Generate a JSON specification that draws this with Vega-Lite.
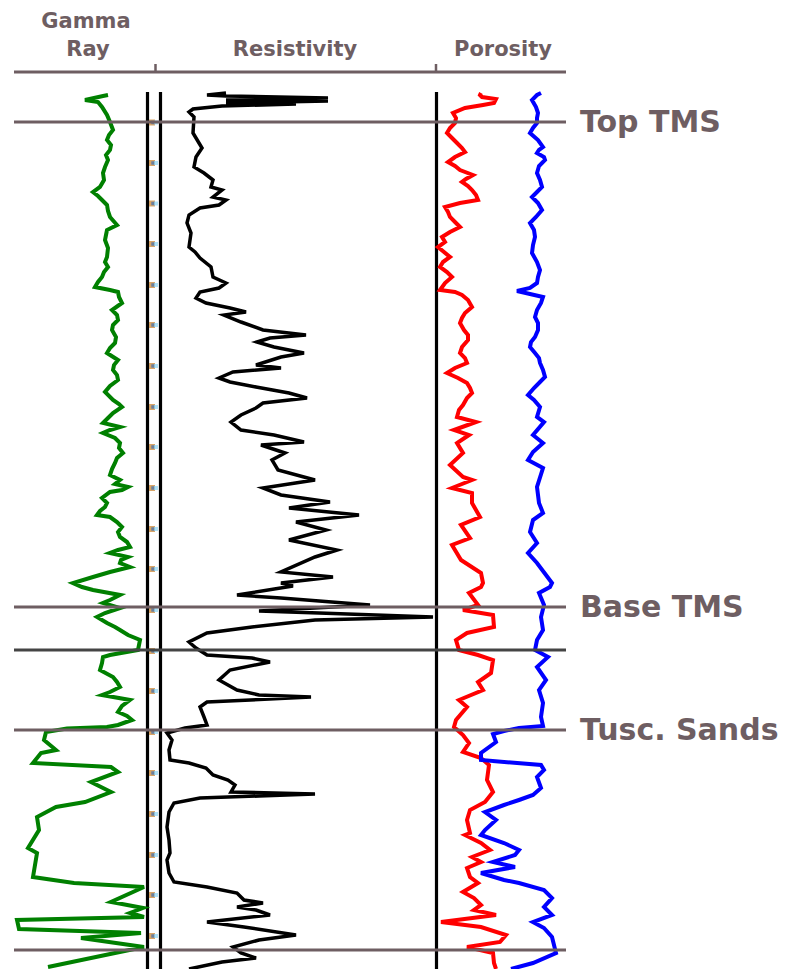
{
  "$schema": "https://vega.github.io/schema/vega-lite/v6.json",
  "width": 787,
  "height": 969,
  "autosize": {"type": "none"},
  "padding": 0,
  "background": "white",
  "config": {"view": {"stroke": null}},
  "datasets": {
    "gamma": [
      {"depth":95,"value":108},{"depth":96,"value":103},{"depth":100,"value":85},{"depth":102,"value":98},{"depth":107,"value":102},{"depth":115,"value":107},{"depth":122,"value":110},{"depth":130,"value":113},{"depth":135,"value":109},{"depth":140,"value":107},{"depth":145,"value":111},{"depth":150,"value":110},{"depth":155,"value":106},{"depth":160,"value":108},{"depth":167,"value":105},{"depth":173,"value":103},{"depth":180,"value":104},{"depth":187,"value":100},{"depth":192,"value":93},{"depth":196,"value":98},{"depth":200,"value":102},{"depth":205,"value":107},{"depth":211,"value":108},{"depth":217,"value":110},{"depth":225,"value":117},{"depth":230,"value":107},{"depth":235,"value":106},{"depth":240,"value":105},{"depth":248,"value":108},{"depth":257,"value":107},{"depth":262,"value":105},{"depth":267,"value":108},{"depth":272,"value":104},{"depth":277,"value":102},{"depth":282,"value":98},{"depth":287,"value":95},{"depth":290,"value":110},{"depth":292,"value":118},{"depth":297,"value":119},{"depth":303,"value":122},{"depth":310,"value":112},{"depth":315,"value":117},{"depth":320,"value":118},{"depth":325,"value":113},{"depth":330,"value":112},{"depth":337,"value":116},{"depth":343,"value":115},{"depth":348,"value":110},{"depth":353,"value":107},{"depth":360,"value":118},{"depth":365,"value":114},{"depth":370,"value":113},{"depth":375,"value":117},{"depth":380,"value":118},{"depth":386,"value":110},{"depth":392,"value":105},{"depth":400,"value":113},{"depth":404,"value":119},{"depth":407,"value":122},{"depth":413,"value":113},{"depth":418,"value":108},{"depth":423,"value":103},{"depth":427,"value":120},{"depth":430,"value":110},{"depth":433,"value":103},{"depth":438,"value":115},{"depth":443,"value":120},{"depth":448,"value":119},{"depth":453,"value":123},{"depth":458,"value":117},{"depth":463,"value":115},{"depth":469,"value":112},{"depth":475,"value":110},{"depth":480,"value":120},{"depth":484,"value":115},{"depth":487,"value":128},{"depth":490,"value":122},{"depth":492,"value":110},{"depth":498,"value":102},{"depth":503,"value":107},{"depth":507,"value":105},{"depth":511,"value":100},{"depth":515,"value":97},{"depth":517,"value":110},{"depth":522,"value":117},{"depth":527,"value":122},{"depth":532,"value":118},{"depth":537,"value":120},{"depth":542,"value":127},{"depth":547,"value":130},{"depth":550,"value":118},{"depth":553,"value":110},{"depth":557,"value":128},{"depth":560,"value":121},{"depth":563,"value":120},{"depth":567,"value":130},{"depth":572,"value":110},{"depth":577,"value":93},{"depth":583,"value":73},{"depth":587,"value":82},{"depth":590,"value":93},{"depth":595,"value":120},{"depth":600,"value":110},{"depth":603,"value":103},{"depth":608,"value":120},{"depth":613,"value":105},{"depth":617,"value":97},{"depth":623,"value":107},{"depth":627,"value":115},{"depth":630,"value":120},{"depth":635,"value":128},{"depth":640,"value":140},{"depth":645,"value":139},{"depth":650,"value":138},{"depth":655,"value":110},{"depth":657,"value":103},{"depth":663,"value":102},{"depth":670,"value":100},{"depth":677,"value":113},{"depth":682,"value":117},{"depth":687,"value":120},{"depth":692,"value":110},{"depth":695,"value":102},{"depth":700,"value":130},{"depth":706,"value":122},{"depth":712,"value":118},{"depth":716,"value":127},{"depth":720,"value":132},{"depth":725,"value":118},{"depth":727,"value":107},{"depth":728.5,"value":67},{"depth":732,"value":46},{"depth":740,"value":44},{"depth":750,"value":56},{"depth":753,"value":41},{"depth":763,"value":33},{"depth":767,"value":111},{"depth":772,"value":118},{"depth":782,"value":91},{"depth":792,"value":111},{"depth":802,"value":85},{"depth":807,"value":56},{"depth":817,"value":37},{"depth":830,"value":39},{"depth":848,"value":28},{"depth":853,"value":37},{"depth":877,"value":33},{"depth":883,"value":74},{"depth":887,"value":144},{"depth":902,"value":111},{"depth":904,"value":122},{"depth":908,"value":143},{"depth":913,"value":130},{"depth":917,"value":144},{"depth":920,"value":17},{"depth":929,"value":19},{"depth":933,"value":141},{"depth":938,"value":81},{"depth":947,"value":144},{"depth":953,"value":115},{"depth":967,"value":48}
    ],
    "resistivity": [
      {"depth":93,"value":226},{"depth":95,"value":207},{"depth":96,"value":226},{"depth":98,"value":328},{"depth":100,"value":226},{"depth":101,"value":328},{"depth":103,"value":226},{"depth":104,"value":296},{"depth":106,"value":222},{"depth":109,"value":193},{"depth":112,"value":189},{"depth":117,"value":194},{"depth":133,"value":193},{"depth":148,"value":202},{"depth":157,"value":196},{"depth":167,"value":194},{"depth":173,"value":204},{"depth":180,"value":213},{"depth":187,"value":211},{"depth":190,"value":222},{"depth":197,"value":213},{"depth":200,"value":226},{"depth":205,"value":219},{"depth":208,"value":200},{"depth":215,"value":189},{"depth":223,"value":187},{"depth":233,"value":191},{"depth":247,"value":189},{"depth":252,"value":195},{"depth":258,"value":200},{"depth":267,"value":211},{"depth":277,"value":213},{"depth":283,"value":226},{"depth":288,"value":219},{"depth":292,"value":200},{"depth":298,"value":196},{"depth":303,"value":206},{"depth":308,"value":230},{"depth":312,"value":246},{"depth":315,"value":224},{"depth":322,"value":241},{"depth":330,"value":263},{"depth":335,"value":306},{"depth":338,"value":270},{"depth":342,"value":257},{"depth":347,"value":274},{"depth":353,"value":304},{"depth":357,"value":281},{"depth":365,"value":256},{"depth":368,"value":281},{"depth":372,"value":233},{"depth":378,"value":219},{"depth":382,"value":230},{"depth":387,"value":256},{"depth":393,"value":289},{"depth":398,"value":307},{"depth":403,"value":263},{"depth":408,"value":256},{"depth":415,"value":241},{"depth":422,"value":231},{"depth":430,"value":241},{"depth":435,"value":274},{"depth":442,"value":304},{"depth":445,"value":261},{"depth":453,"value":285},{"depth":460,"value":272},{"depth":470,"value":278},{"depth":480,"value":315},{"depth":488,"value":263},{"depth":495,"value":281},{"depth":502,"value":330},{"depth":508,"value":289},{"depth":515,"value":359},{"depth":522,"value":296},{"depth":530,"value":326},{"depth":540,"value":289},{"depth":550,"value":337},{"depth":557,"value":315},{"depth":572,"value":281},{"depth":577,"value":333},{"depth":583,"value":281},{"depth":586,"value":293},{"depth":595,"value":237},{"depth":598,"value":281},{"depth":605,"value":370},{"depth":611,"value":259},{"depth":613,"value":319},{"depth":617,"value":433},{"depth":620,"value":315},{"depth":627,"value":252},{"depth":633,"value":207},{"depth":642,"value":189},{"depth":648,"value":196},{"depth":655,"value":207},{"depth":658,"value":252},{"depth":662,"value":270},{"depth":670,"value":230},{"depth":680,"value":219},{"depth":690,"value":237},{"depth":695,"value":259},{"depth":697,"value":311},{"depth":702,"value":207},{"depth":707,"value":200},{"depth":717,"value":204},{"depth":725,"value":207},{"depth":728,"value":185},{"depth":733,"value":167},{"depth":740,"value":172},{"depth":750,"value":169},{"depth":760,"value":170},{"depth":763,"value":189},{"depth":768,"value":206},{"depth":775,"value":213},{"depth":780,"value":228},{"depth":785,"value":235},{"depth":792,"value":231},{"depth":794,"value":315},{"depth":796,"value":259},{"depth":798,"value":200},{"depth":803,"value":174},{"depth":812,"value":169},{"depth":827,"value":167},{"depth":840,"value":169},{"depth":853,"value":170},{"depth":860,"value":167},{"depth":873,"value":169},{"depth":882,"value":174},{"depth":887,"value":207},{"depth":893,"value":237},{"depth":900,"value":244},{"depth":903,"value":263},{"depth":907,"value":237},{"depth":910,"value":256},{"depth":915,"value":270},{"depth":922,"value":207},{"depth":927,"value":244},{"depth":935,"value":296},{"depth":940,"value":259},{"depth":947,"value":233},{"depth":953,"value":241},{"depth":958,"value":256},{"depth":962,"value":222},{"depth":969,"value":189}
    ],
    "porosity_red": [
      {"depth":93,"value":481},{"depth":95,"value":480},{"depth":97,"value":482},{"depth":99,"value":496},{"depth":103,"value":494},{"depth":105,"value":483},{"depth":108,"value":465},{"depth":113,"value":453},{"depth":118,"value":456},{"depth":123,"value":455},{"depth":128,"value":450},{"depth":133,"value":447},{"depth":138,"value":452},{"depth":143,"value":457},{"depth":148,"value":462},{"depth":152,"value":465},{"depth":157,"value":455},{"depth":162,"value":448},{"depth":166,"value":455},{"depth":170,"value":460},{"depth":175,"value":473},{"depth":179,"value":466},{"depth":182,"value":462},{"depth":186,"value":468},{"depth":190,"value":472},{"depth":195,"value":476},{"depth":200,"value":478},{"depth":203,"value":460},{"depth":207,"value":445},{"depth":212,"value":448},{"depth":217,"value":450},{"depth":222,"value":455},{"depth":227,"value":460},{"depth":232,"value":450},{"depth":237,"value":442},{"depth":242,"value":445},{"depth":247,"value":438},{"depth":252,"value":444},{"depth":257,"value":450},{"depth":262,"value":443},{"depth":267,"value":440},{"depth":272,"value":447},{"depth":277,"value":452},{"depth":283,"value":445},{"depth":290,"value":440},{"depth":292,"value":455},{"depth":295,"value":462},{"depth":300,"value":468},{"depth":307,"value":472},{"depth":313,"value":465},{"depth":318,"value":462},{"depth":323,"value":460},{"depth":330,"value":464},{"depth":335,"value":468},{"depth":340,"value":468},{"depth":347,"value":462},{"depth":353,"value":460},{"depth":358,"value":465},{"depth":363,"value":467},{"depth":368,"value":455},{"depth":373,"value":447},{"depth":378,"value":458},{"depth":383,"value":467},{"depth":388,"value":470},{"depth":393,"value":472},{"depth":398,"value":467},{"depth":405,"value":463},{"depth":410,"value":459},{"depth":417,"value":457},{"depth":422,"value":476},{"depth":430,"value":454},{"depth":435,"value":469},{"depth":443,"value":457},{"depth":453,"value":463},{"depth":465,"value":450},{"depth":477,"value":463},{"depth":480,"value":472},{"depth":488,"value":452},{"depth":493,"value":472},{"depth":503,"value":472},{"depth":517,"value":480},{"depth":525,"value":461},{"depth":538,"value":470},{"depth":545,"value":452},{"depth":560,"value":461},{"depth":573,"value":481},{"depth":583,"value":483},{"depth":587,"value":481},{"depth":593,"value":469},{"depth":605,"value":478},{"depth":610,"value":463},{"depth":615,"value":493},{"depth":627,"value":494},{"depth":633,"value":467},{"depth":640,"value":456},{"depth":650,"value":459},{"depth":655,"value":478},{"depth":660,"value":493},{"depth":673,"value":491},{"depth":682,"value":478},{"depth":690,"value":483},{"depth":700,"value":459},{"depth":707,"value":467},{"depth":720,"value":456},{"depth":727,"value":454},{"depth":735,"value":463},{"depth":743,"value":469},{"depth":752,"value":463},{"depth":758,"value":481},{"depth":765,"value":489},{"depth":780,"value":487},{"depth":792,"value":493},{"depth":802,"value":485},{"depth":810,"value":470},{"depth":820,"value":467},{"depth":833,"value":470},{"depth":835,"value":465},{"depth":843,"value":481},{"depth":850,"value":490},{"depth":857,"value":472},{"depth":862,"value":481},{"depth":868,"value":467},{"depth":877,"value":470},{"depth":883,"value":478},{"depth":892,"value":463},{"depth":898,"value":474},{"depth":905,"value":481},{"depth":910,"value":474},{"depth":915,"value":496},{"depth":922,"value":441},{"depth":927,"value":481},{"depth":935,"value":506},{"depth":942,"value":500},{"depth":947,"value":467},{"depth":953,"value":493},{"depth":963,"value":494},{"depth":969,"value":496}
    ],
    "porosity_blue": [
      {"depth":93,"value":541},{"depth":95,"value":537},{"depth":100,"value":532},{"depth":107,"value":536},{"depth":113,"value":538},{"depth":118,"value":537},{"depth":123,"value":537},{"depth":128,"value":533},{"depth":133,"value":530},{"depth":140,"value":538},{"depth":147,"value":543},{"depth":150,"value":539},{"depth":153,"value":537},{"depth":157,"value":544},{"depth":160,"value":545},{"depth":166,"value":539},{"depth":173,"value":537},{"depth":180,"value":540},{"depth":187,"value":542},{"depth":192,"value":537},{"depth":197,"value":532},{"depth":203,"value":538},{"depth":210,"value":542},{"depth":217,"value":536},{"depth":223,"value":530},{"depth":230,"value":534},{"depth":237,"value":535},{"depth":245,"value":533},{"depth":253,"value":532},{"depth":262,"value":537},{"depth":270,"value":540},{"depth":277,"value":538},{"depth":283,"value":537},{"depth":288,"value":530},{"depth":291,"value":517},{"depth":294,"value":530},{"depth":297,"value":543},{"depth":303,"value":541},{"depth":310,"value":537},{"depth":317,"value":535},{"depth":323,"value":538},{"depth":330,"value":538},{"depth":337,"value":535},{"depth":342,"value":531},{"depth":347,"value":530},{"depth":353,"value":535},{"depth":358,"value":539},{"depth":363,"value":540},{"depth":370,"value":543},{"depth":377,"value":545},{"depth":382,"value":540},{"depth":388,"value":534},{"depth":395,"value":528},{"depth":400,"value":534},{"depth":407,"value":540},{"depth":417,"value":537},{"depth":422,"value":544},{"depth":435,"value":533},{"depth":443,"value":543},{"depth":452,"value":533},{"depth":460,"value":528},{"depth":468,"value":543},{"depth":487,"value":537},{"depth":503,"value":539},{"depth":513,"value":543},{"depth":520,"value":533},{"depth":532,"value":530},{"depth":543,"value":537},{"depth":553,"value":528},{"depth":563,"value":537},{"depth":583,"value":552},{"depth":587,"value":550},{"depth":593,"value":539},{"depth":605,"value":544},{"depth":617,"value":541},{"depth":630,"value":543},{"depth":640,"value":537},{"depth":650,"value":535},{"depth":657,"value":548},{"depth":667,"value":537},{"depth":680,"value":546},{"depth":690,"value":539},{"depth":703,"value":543},{"depth":717,"value":541},{"depth":726,"value":543},{"depth":728,"value":519},{"depth":731,"value":504},{"depth":734,"value":493},{"depth":742,"value":496},{"depth":753,"value":481},{"depth":760,"value":481},{"depth":765,"value":541},{"depth":770,"value":544},{"depth":777,"value":537},{"depth":788,"value":541},{"depth":795,"value":533},{"depth":800,"value":519},{"depth":805,"value":504},{"depth":812,"value":485},{"depth":820,"value":496},{"depth":830,"value":485},{"depth":835,"value":481},{"depth":843,"value":504},{"depth":850,"value":519},{"depth":855,"value":515},{"depth":862,"value":493},{"depth":867,"value":515},{"depth":873,"value":481},{"depth":880,"value":504},{"depth":883,"value":519},{"depth":890,"value":544},{"depth":898,"value":552},{"depth":907,"value":544},{"depth":915,"value":552},{"depth":922,"value":533},{"depth":928,"value":544},{"depth":937,"value":552},{"depth":953,"value":556},{"depth":963,"value":533},{"depth":969,"value":511}
    ],
    "formations": [
      {"depth":122,"name":"Top TMS","label":"Top TMS"},
      {"depth":607,"name":"Base TMS","label":"Base TMS"},
      {"depth":650,"name":"Marker","label":""},
      {"depth":730,"name":"Tusc. Sands","label":"Tusc. Sands"},
      {"depth":950,"name":"Bottom","label":""}
    ],
    "depth_marks": [
      {"depth":122.5},{"depth":163},{"depth":203.5},{"depth":244},{"depth":285},{"depth":325},{"depth":366},{"depth":407},{"depth":447},{"depth":488},{"depth":529},{"depth":569},{"depth":610},{"depth":651},{"depth":691},{"depth":732},{"depth":773},{"depth":814},{"depth":855},{"depth":895},{"depth":936}
    ]
  },
  "layer": [
    {
      "data": {"values": [{"track":"Gamma Ray","edge":147.5},{"track":"Resistivity","edge":160.5},{"track":"Porosity","edge":436.5}]},
      "mark": {"type": "rule", "color": "black", "strokeWidth": 3.2},
      "encoding": {
        "x": {"field": "edge", "type": "quantitative", "scale": {"domain": [0, 787], "nice": false, "zero": false}, "axis": null},
        "y": {"datum": 92, "type": "quantitative", "scale": {"domain": [0, 969], "reverse": true, "nice": false, "zero": false}, "axis": null},
        "y2": {"datum": 969}
      }
    },
    {
      "data": {"name": "gamma"},
      "mark": {"type": "line", "color": "#008000", "strokeWidth": 4, "strokeJoin": "miter"},
      "encoding": {
        "x": {"field": "value", "type": "quantitative"},
        "y": {"field": "depth", "type": "quantitative"},
        "order": {"field": "depth", "type": "quantitative"}
      }
    },
    {
      "data": {"name": "resistivity"},
      "mark": {"type": "line", "color": "black", "strokeWidth": 3.5, "strokeJoin": "miter"},
      "encoding": {
        "x": {"field": "value", "type": "quantitative"},
        "y": {"field": "depth", "type": "quantitative"},
        "order": {"field": "depth", "type": "quantitative"}
      }
    },
    {
      "data": {"name": "porosity_red"},
      "mark": {"type": "line", "color": "#ff0000", "strokeWidth": 4, "strokeJoin": "miter"},
      "encoding": {
        "x": {"field": "value", "type": "quantitative"},
        "y": {"field": "depth", "type": "quantitative"},
        "order": {"field": "depth", "type": "quantitative"}
      }
    },
    {
      "data": {"name": "porosity_blue"},
      "mark": {"type": "line", "color": "#0000ff", "strokeWidth": 4, "strokeJoin": "miter"},
      "encoding": {
        "x": {"field": "value", "type": "quantitative"},
        "y": {"field": "depth", "type": "quantitative"},
        "order": {"field": "depth", "type": "quantitative"}
      }
    },
    {
      "data": {"name": "depth_marks"},
      "mark": {"type": "point", "shape": "square", "filled": true, "color": "#c9802a", "size": 36},
      "encoding": {
        "x": {"datum": 152},
        "y": {"field": "depth", "type": "quantitative"}
      }
    },
    {
      "data": {"name": "depth_marks"},
      "mark": {"type": "point", "shape": "square", "filled": true, "color": "#3d6fb0", "size": 12},
      "encoding": {
        "x": {"datum": 153},
        "y": {"field": "depth", "type": "quantitative"}
      }
    },
    {
      "data": {"name": "depth_marks"},
      "mark": {"type": "point", "shape": "square", "filled": true, "color": "#8fd4f2", "size": 16},
      "encoding": {
        "x": {"datum": 156},
        "y": {"field": "depth", "type": "quantitative"}
      }
    },
    {
      "data": {"name": "formations"},
      "mark": {"type": "rule", "strokeWidth": 3},
      "encoding": {
        "x": {"datum": 14},
        "x2": {"datum": 566},
        "y": {"field": "depth", "type": "quantitative"},
        "color": {"field": "name", "type": "nominal", "legend": null,
          "scale": {"domain": ["Top TMS", "Base TMS", "Marker", "Tusc. Sands", "Bottom"], "range": ["#6e5e62", "#6e5e62", "#444444", "#6e5e62", "#6e5e62"]}}
      }
    },
    {
      "data": {"name": "formations"},
      "mark": {"type": "text", "align": "left", "baseline": "alphabetic", "dy": 10, "font": "DejaVu Sans", "fontWeight": "bold", "fontSize": 30, "color": "#6e5e62"},
      "encoding": {
        "x": {"datum": 580},
        "y": {"field": "depth", "type": "quantitative"},
        "text": {"field": "label"}
      }
    },
    {
      "data": {"values": [{"part":"header"}]},
      "mark": {"type": "rule", "color": "#6e5e62", "strokeWidth": 3},
      "encoding": {"x": {"datum": 14}, "x2": {"datum": 566}, "y": {"datum": 72}}
    },
    {
      "data": {"values": [{"track":"Resistivity","left":155.5},{"track":"Porosity","left":436}]},
      "mark": {"type": "rule", "color": "#6e5e62", "strokeWidth": 2.5},
      "encoding": {"x": {"field": "left", "type": "quantitative"}, "y": {"datum": 64}, "y2": {"datum": 72}}
    },
    {
      "data": {"values": [{"part":"header"}]},
      "mark": {"type": "text", "text": "Gamma", "align": "center", "baseline": "alphabetic", "font": "DejaVu Sans", "fontWeight": "bold", "fontSize": 21, "color": "#6e5e62"},
      "encoding": {"x": {"datum": 86}, "y": {"datum": 28}}
    },
    {
      "data": {"values": [{"part":"header"}]},
      "mark": {"type": "text", "text": "Ray", "align": "center", "baseline": "alphabetic", "font": "DejaVu Sans", "fontWeight": "bold", "fontSize": 21, "color": "#6e5e62"},
      "encoding": {"x": {"datum": 88}, "y": {"datum": 56}}
    },
    {
      "data": {"values": [{"part":"header"}]},
      "mark": {"type": "text", "text": "Resistivity", "align": "center", "baseline": "alphabetic", "font": "DejaVu Sans", "fontWeight": "bold", "fontSize": 21, "color": "#6e5e62"},
      "encoding": {"x": {"datum": 295}, "y": {"datum": 56}}
    },
    {
      "data": {"values": [{"part":"header"}]},
      "mark": {"type": "text", "text": "Porosity", "align": "center", "baseline": "alphabetic", "font": "DejaVu Sans", "fontWeight": "bold", "fontSize": 21, "color": "#6e5e62"},
      "encoding": {"x": {"datum": 503}, "y": {"datum": 56}}
    }
  ]
}
